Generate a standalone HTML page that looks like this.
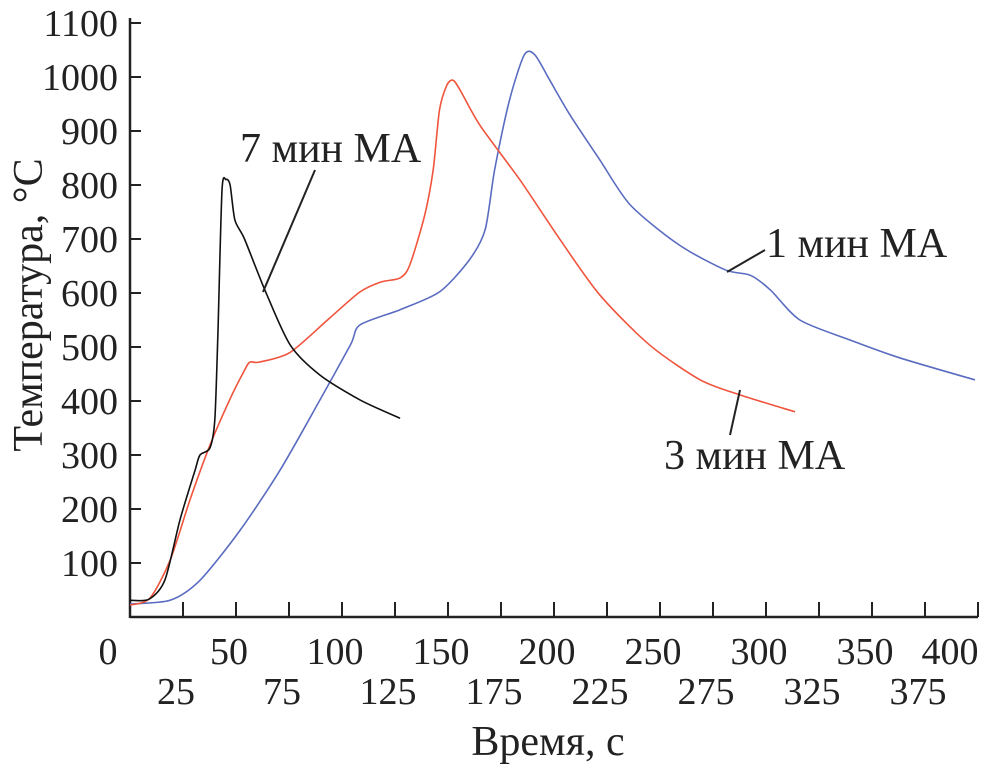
<!DOCTYPE html>
<html><head><meta charset="utf-8"><style>
body{margin:0;background:#fff}
svg{display:block;font-family:"Liberation Serif",serif}
</style></head><body>
<svg id="c" width="989" height="771"></svg>
<script>
const xTicksTop=[0,50,100,150,200,250,300,350,400];
const xTicksBottom=[25,75,125,175,225,275,325,375];
const yTicks=[100,200,300,400,500,600,700,800,900,1000,1100];
const black_t=[0,9,16.5,23.6,30.7,33,37.7,40,41.5,43.4,45.3,47.2,49.5,54,63.7,75.5,89.6,108.5,127.4];
const black_T=[31,33,69,180,272,300,313,365,530,790,810,800,735,700,605,504,448,402,368];
const red_t=[0,9.4,18.9,28.3,37.7,47,54,56.6,61,75.5,94,108.5,118,127.4,132,139,143,146,149.5,152.4,155.7,165,184,203,221.7,245,269,288,313.7];
const red_T=[22,35,105,217,318,402,457,472,472,490,553,602,620,628,652,744,828,939,985,994,976,911,809,698,596,504,439,411,380];
const blue_t=[0,18.9,33,52,70.8,89.6,104,108.5,127.4,146,160,167.5,172,179,186,191,198,207.5,221.7,236,259,280.7,292.5,302,316,339.6,363,398.6];
const blue_T=[24,31,68,161,272,402,504,541,569,602,661,717,828,957,1041,1041,994,930,846,763,689,643,633,606,550,513,480,439];
const NS="http://www.w3.org/2000/svg";
const svg=document.getElementById('c');
const X=t=>130+t*2.12, Y=v=>617-v*0.54;
function mk(tag,attrs,parent){const e=document.createElementNS(NS,tag);for(const k in attrs)e.setAttribute(k,attrs[k]);(parent||svg).appendChild(e);return e;}
let e;
e=mk('line',{x1:130,y1:617,x2:978,y2:617,stroke:'#222','stroke-width':2.5});


e=mk('line',{x1:130,y1:18,x2:130,y2:618,stroke:'#222','stroke-width':2.5});


yTicks.forEach(v=>{
 e=mk('line',{x1:130,y1:Y(v),x2:141,y2:Y(v),stroke:'#222','stroke-width':2});
 
 
 e=mk('text',{x:118,y:Y(v)+13,'text-anchor':'end','font-size':38,fill:'#222'});e.textContent=v;
 
 
});
xTicksTop.concat(xTicksBottom).forEach(v=>{
 e=mk('line',{x1:X(v),y1:617,x2:X(v),y2:602,stroke:'#222','stroke-width':2});
 
 
});
xTicksTop.forEach(v=>{
 e=mk('text',{x:v===0?108:(v===400?950:X(v)-7),y:664,'text-anchor':'middle','font-size':38,fill:'#222'});e.textContent=v;
 
 
});
xTicksBottom.forEach(v=>{
 e=mk('text',{x:X(v)-7,y:704,'text-anchor':'middle','font-size':38,fill:'#222'});e.textContent=v;
 
 
});
function series(ts,vs,color,name){
 const P=ts.map((t,i)=>[X(t),Y(vs[i])]);
 let d='M'+P[0][0].toFixed(1)+' '+P[0][1].toFixed(1);
 for(let i=0;i<P.length-1;i++){
  const p0=P[Math.max(0,i-1)],p1=P[i],p2=P[i+1],p3=P[Math.min(P.length-1,i+2)];
  const k=1/6*0.8;
  const c1=[p1[0]+(p2[0]-p0[0])*k,p1[1]+(p2[1]-p0[1])*k];
  const c2=[p2[0]-(p3[0]-p1[0])*k,p2[1]-(p3[1]-p1[1])*k];
  d+=' C'+c1.map(n=>n.toFixed(1)).join(' ')+' '+c2.map(n=>n.toFixed(1)).join(' ')+' '+p2.map(n=>n.toFixed(1)).join(' ');
 }
 const p=mk('path',{d:d,fill:'none',stroke:color,'stroke-width':1.6,'stroke-linejoin':'round'});
 
 
}
series(blue_t,blue_T,'#5a6cc0','series-1-min');
series(red_t,red_T,'#f0543c','series-3-min');
series(black_t,black_T,'#111','series-7-min');
const labels=[["7 мин МА",240,162,315,170,263,292],["1 мин МА",766,257,765,250,727,272],["3 мин МА",664,469,740,390,730,435]];
labels.forEach(l=>{
 e=mk('text',{x:l[1],y:l[2],'font-size':42,fill:'#222'});e.textContent=l[0];
 
 
 e=mk('line',{x1:l[3],y1:l[4],x2:l[5],y2:l[6],stroke:'#222','stroke-width':2});
 
 
});
e=mk('text',{x:548,y:755,'text-anchor':'middle','font-size':42,fill:'#222'});e.textContent="Время, с";


e=mk('text',{x:0,y:0,'text-anchor':'middle','font-size':42,fill:'#222',transform:'translate(42,305) rotate(-90)'});e.textContent="Температура, °C";


</script>
</body></html>
